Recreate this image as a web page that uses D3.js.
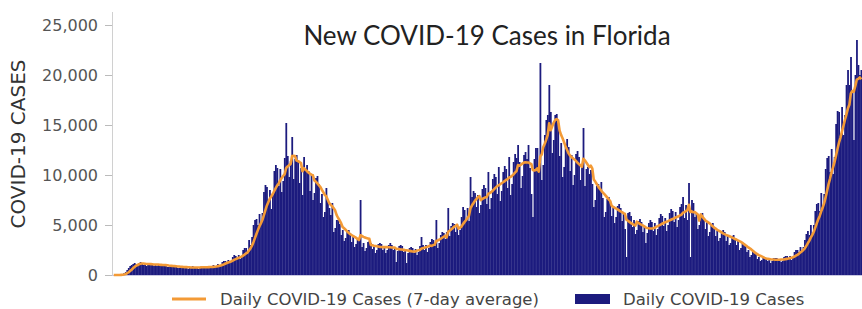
<!DOCTYPE html>
<html>
<head>
    <meta charset="utf-8">
    <title>New COVID-19 Cases in Florida</title>
    <script src="https://cdn.jsdelivr.net/npm/d3@7"></script>
    <style>
        body { margin: 0; background: #fff; }
        svg { display: block; }
    </style>
</head>

<body>
    <script>
        // daily new cases, in hundreds, one row per week
        var weeks = [
          [0,0,0,0,0,1,1], [2,3,5,7,9,10,11], [12,11,10,12,13,12,10], [11,9,10,12,12,11,9],
          [10,9,10,11,11,10,9], [9,8,8,10,10,9,8], [8,7,7,9,9,8,7], [8,6,7,8,9,8,7],
          [8,6,7,9,9,8,7], [8,7,8,9,10,9,8], [11,9,10,13,14,14,13], [15,12,14,18,20,19,17],
          [20,16,19,25,27,27,23], [35,30,38,50,55,56,50], [61,51,62,83,90,88,75], [85,66,80,104,110,107,89],
          [106,83,94,117,152,119,98], [114,138,96,116,120,115,92], [107,80,118,106,110,104,84], [101,75,82,97,99,91,72],
          [81,58,63,87,75,67,60], [72,43,47,55,55,51,40], [45,34,37,44,45,42,33], [38,28,31,36,37,75,28],
          [32,24,27,33,34,32,26], [29,22,25,31,32,31,25], [29,22,25,30,32,30,25], [28,13,24,29,30,29,23],
          [26,12,22,27,28,27,22], [26,20,23,29,38,30,25], [30,23,27,33,36,35,29], [55,27,32,40,43,42,36],
          [43,67,39,49,52,51,43], [51,40,45,58,68,65,56], [67,54,98,78,84,82,68], [80,62,70,86,90,87,71],
          [103,66,77,96,101,98,81], [108,74,84,103,109,106,87], [118,80,91,113,121,117,130], [113,87,99,120,123,116,130],
          [107,81,58,116,127,127,108], [212,95,110,140,155,160,190], [163,122,135,160,161,152,119], [132,98,108,131,136,128,104],
          [120,90,100,121,124,118,95], [109,147,89,106,108,101,105], [91,68,75,89,91,85,93], [77,58,63,76,78,74,59],
          [69,52,58,69,71,67,54], [62,46,18,62,63,59,48], [55,41,45,54,56,53,43], [49,32,42,52,55,53,44],
          [52,40,46,57,61,59,49], [57,44,50,62,66,64,53], [63,48,55,68,71,78,57], [70,55,92,18,75,72,58],
          [62,46,50,61,62,57,46], [53,39,43,51,52,48,39], [44,34,37,44,45,43,34], [40,30,32,39,40,37,30],
          [34,25,27,32,32,29,23], [25,18,20,23,23,21,16], [18,14,15,18,18,17,14], [16,12,14,17,17,17,14],
          [16,13,14,18,19,19,16], [19,15,18,23,25,25,23], [28,23,28,35,41,44,40], [50,41,50,64,71,72,64],
          [82,67,81,106,117,119,103], [126,101,118,151,164,163,139], [168,140,160,190,205,190,218], [185,135,200,235,210,200,205]
        ];

        var yTicks = [0, 5000, 10000, 15000, 20000, 25000];
        var title = "New COVID-19 Cases in Florida";
        var yLabel = "COVID-19 CASES";
        var legendLabels = ["Daily COVID-19 Cases (7-day average)", "Daily COVID-19 Cases"];

        var navy = "#1c1b7e";
        var orange = "#f39a36";

        var daily = d3.merge(weeks).map(function(d) { return d * 100; });

        // trailing 7-day average
        var avg = daily.map(function(d, i) {
          return d3.mean(daily.slice(Math.max(0, i - 6), i + 1));
        });

        var width = 862;
        var height = 309;

        var xScale = d3.scaleBand()
                    .domain(d3.range(daily.length))
                    .range([113, 862])
                    .paddingInner(0);

        var yScale = d3.scaleLinear()
                    .domain([0, 25000])
                    .range([275, 25]);

        var svg = d3.select("body").append("svg")
            .attr("width", width)
            .attr("height", height);

        // axis line and baseline
        svg.append("line")
            .attr("x1", 112.5).attr("x2", 112.5)
            .attr("y1", 12).attr("y2", 275)
            .attr("stroke", "#d0d0d0");

        svg.append("line")
            .attr("x1", 112).attr("x2", 862)
            .attr("y1", 275.5).attr("y2", 275.5)
            .attr("stroke", "#c9c8e2");

        var yAxis = svg.append("g")
            .attr("transform", "translate(112,0)")
            .call(d3.axisLeft(yScale)
                .tickValues(yTicks)
                .tickFormat(d3.format(","))
                .tickSize(7)
                .tickPadding(7));

        yAxis.select(".domain").remove();
        yAxis.selectAll(".tick line").attr("stroke", "#bbb");
        yAxis.selectAll(".tick text")
            .attr("fill", "#555")
            .style("font-family", "DejaVu Sans")
            .style("font-size", "16px");

        // bars (slightly widened so neighbours touch, like the source)
        svg.append("g")
            .selectAll("rect")
            .data(daily)
            .enter()
            .append("rect")
            .attr("x", function(d, i) { return xScale(i); })
            .attr("width", xScale.bandwidth() + 0.3)
            .attr("y", function(d) { return yScale(d); })
            .attr("height", function(d) { return 275 - yScale(d); })
            .attr("fill", navy);

        // 7-day average line
        var line = d3.line()
            .x(function(d, i) { return xScale(i) + xScale.bandwidth() / 2; })
            .y(function(d) { return yScale(d); });

        svg.append("path")
            .datum(avg)
            .attr("d", line)
            .attr("fill", "none")
            .attr("stroke", orange)
            .attr("stroke-width", 2.6)
            .attr("stroke-linejoin", "round");

        // title
        svg.append("text")
            .attr("x", 487)
            .attr("y", 45)
            .attr("text-anchor", "middle")
            .style("font-family", "Lato")
            .style("font-size", "26px")
            .attr("fill", "#222")
            .text(title);

        // y label
        svg.append("text")
            .attr("transform", "translate(25,144) rotate(-90)")
            .attr("text-anchor", "middle")
            .style("font-family", "DejaVu Sans")
            .style("font-size", "20px")
            .attr("fill", "#333")
            .text(yLabel);

        // legend
        var legend = svg.append("g")
            .style("font-family", "DejaVu Sans")
            .style("font-size", "16.5px")
            .attr("fill", "#444");

        legend.append("line")
            .attr("x1", 172).attr("x2", 206)
            .attr("y1", 299).attr("y2", 299)
            .attr("stroke", orange)
            .attr("stroke-width", 3);

        legend.append("text")
            .attr("x", 220).attr("y", 305)
            .text(legendLabels[0]);

        legend.append("rect")
            .attr("x", 575).attr("y", 294)
            .attr("width", 35).attr("height", 10)
            .attr("fill", navy);

        legend.append("text")
            .attr("x", 623).attr("y", 305)
            .text(legendLabels[1]);
    </script>
</body>
</html>
